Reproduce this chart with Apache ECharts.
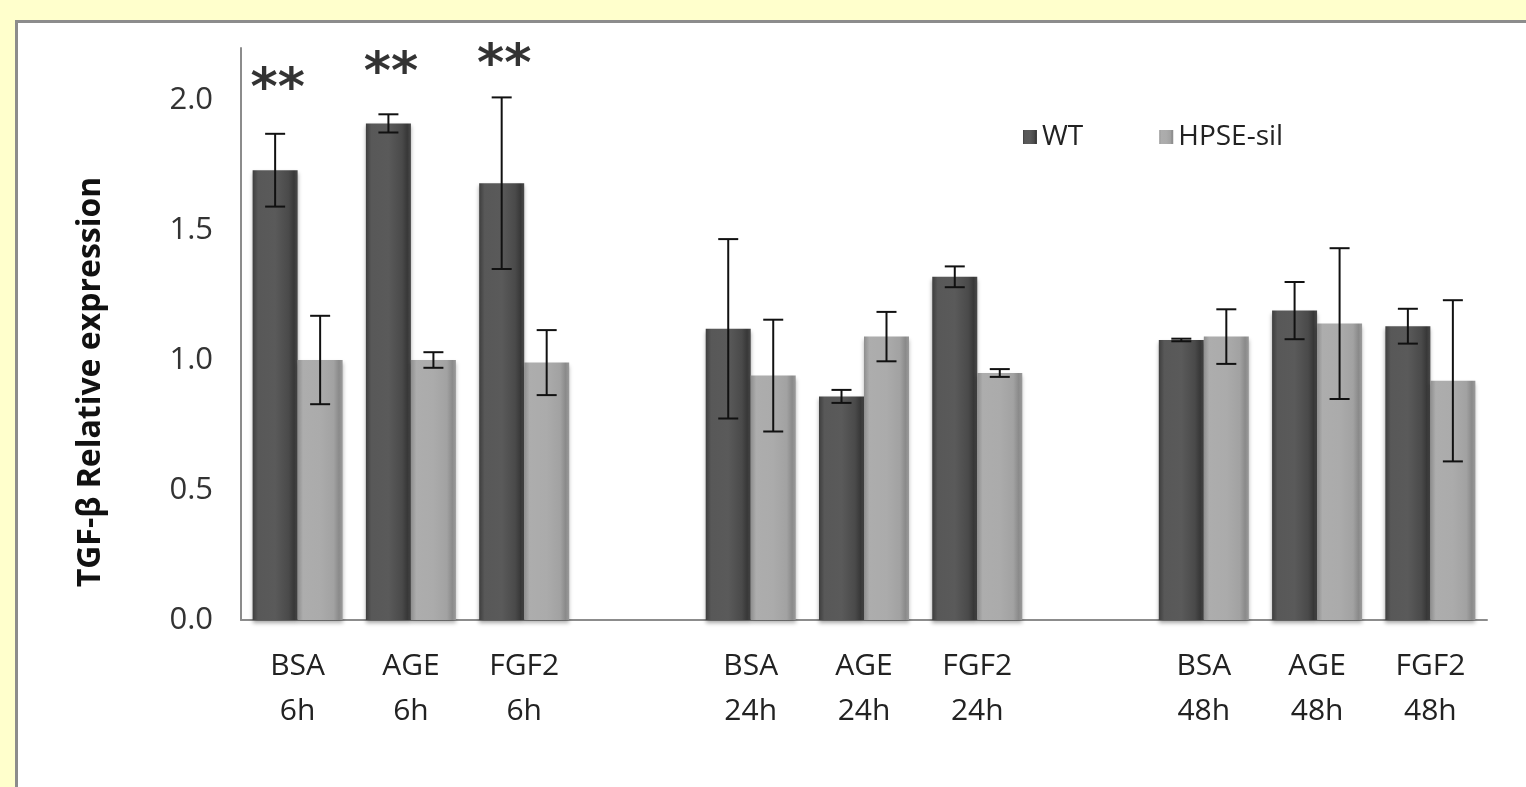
<!DOCTYPE html>
<html>
<head>
<meta charset="utf-8">
<script src="https://cdn.jsdelivr.net/npm/echarts@6/dist/echarts.min.js"></script>
<style>
html,body{margin:0;padding:0;background:#FFFFCC;}
#chart{width:1526px;height:787px;}
</style>
</head>
<body>
<div id="chart"></div>
<script>
// ---- data ----
const categories = ['BSA\n6h','AGE\n6h','FGF2\n6h','','BSA\n24h','AGE\n24h','FGF2\n24h','','BSA\n48h','AGE\n48h','FGF2\n48h'];
const wtValues   = [1.73, 1.91, 1.68, null, 1.12, 0.86, 1.32, null, 1.077, 1.19, 1.13];
const wtErrors   = [0.14, 0.035, 0.33, null, 0.345, 0.025, 0.04, null, 0.005, 0.11, 0.067];
const hpseValues = [1.00, 1.00, 0.99, null, 0.94, 1.09, 0.95, null, 1.09, 1.14, 0.92];
const hpseErrors = [0.17, 0.03, 0.125, null, 0.215, 0.095, 0.015, null, 0.105, 0.29, 0.31];
const sigIndex   = [0, 1, 2];
const sigY       = [2.035, 2.10, 2.13];
const sigLabel   = '**';
const yTicks     = [0, 0.5, 1.0, 1.5, 2.0];

const BAR_W = 45;
const FONT = '"Open Sans", "Noto Sans", sans-serif';

function grad(stops){
  return new echarts.graphic.LinearGradient(0,0,1,0, stops.map(s=>({offset:s[0],color:s[1]})));
}
const wtFill = grad([[0,'#3e3e3e'],[0.12,'#585858'],[0.5,'#5a5a5a'],[0.8,'#4a4a4a'],[0.92,'#383838'],[1,'#4a4a4a']]);
const hpFill = grad([[0,'#8e8e8e'],[0.12,'#adadad'],[0.5,'#ababab'],[0.8,'#a2a2a2'],[0.92,'#8a8a8a'],[1,'#9a9a9a']]);

function errData(vals, errs){
  const out = [];
  vals.forEach((v,i)=>{ if(v!=null) out.push([i, v, errs[i]]); });
  return out;
}
function errRender(offset){
  return function(params, api){
    const i = api.value(0), v = api.value(1), e = api.value(2);
    const top = api.coord([i, v + e]);
    const bot = api.coord([i, v - e]);
    const x = top[0] + offset;
    const cap = 10;
    const st = {stroke:'#111', lineWidth:2};
    return {type:'group', children:[
      {type:'line', shape:{x1:x,y1:top[1],x2:x,y2:bot[1]}, style:st},
      {type:'line', shape:{x1:x-cap,y1:top[1],x2:x+cap,y2:top[1]}, style:st},
      {type:'line', shape:{x1:x-cap,y1:bot[1],x2:x+cap,y2:bot[1]}, style:st}
    ]};
  };
}

const chart = echarts.init(document.getElementById('chart'));
chart.setOption({
  backgroundColor: '#FFFFCC',
  animation: false,
  graphic: [{
    type:'rect', z:-10, left:15, top:20,
    shape:{width:1530, height:790},
    style:{fill:'#ffffff', stroke:'#8c8c8c', lineWidth:3}
  }],
  legend: {
    data:['WT','HPSE-sil'],
    left: 1018, top: 118,
    itemWidth: 14, itemHeight: 14, itemGap: 76,
    icon: 'rect',
    textStyle:{fontFamily:FONT, fontSize:28, color:'#222'}
  },
  grid: {left:241, right:39, top:48, bottom:167},
  xAxis: {
    type:'category', data:categories,
    axisLine:{lineStyle:{color:'#8c8c8c', width:2}},
    axisTick:{show:false},
    axisLabel:{fontFamily:FONT, fontSize:30, color:'#222', lineHeight:45, margin:24, interval:0}
  },
  yAxis: {
    type:'value', min:0, max:2.2, interval:0.5,
    name:'TGF-β Relative expression', nameLocation:'middle', nameGap:134,
    nameTextStyle:{fontFamily:FONT, fontSize:32, fontWeight:'bold', color:'#111', padding:[0,96,0,0]},
    axisLine:{show:true, lineStyle:{color:'#8c8c8c', width:2}},
    axisTick:{show:false},
    splitLine:{show:false},
    axisLabel:{fontFamily:FONT, fontSize:31, color:'#333', margin:28, showMaxLabel:false,
      formatter: v => yTicks.indexOf(v) >= 0 ? v.toFixed(1) : ''}
  },
  series: [
    {name:'WT', type:'bar', data:wtValues, barWidth:BAR_W, barGap:'0%',
     itemStyle:{color:wtFill, shadowColor:'rgba(0,0,0,0.35)', shadowBlur:4, shadowOffsetY:3}},
    {name:'HPSE-sil', type:'bar', data:hpseValues, barWidth:BAR_W, barGap:'0%',
     itemStyle:{color:hpFill, shadowColor:'rgba(0,0,0,0.3)', shadowBlur:4, shadowOffsetY:3}},
    {name:'errWT', type:'custom', data:errData(wtValues, wtErrors), renderItem:errRender(-BAR_W/2), z:5,
     encode:{x:0,y:1}},
    {name:'errHP', type:'custom', data:errData(hpseValues, hpseErrors), renderItem:errRender(BAR_W/2), z:5,
     encode:{x:0,y:1}},
    {name:'sig', type:'scatter', clip:false, symbolSize:0, z:6,
     data: sigIndex.map((c,k)=>[c, sigY[k]]),
     label:{show:true, position:'inside', formatter:sigLabel, offset:[-20,0],
       fontFamily:'"DejaVu Sans", sans-serif', fontSize:52, fontWeight:'bold', color:'#000'}}
  ]
});
</script>
</body>
</html>
